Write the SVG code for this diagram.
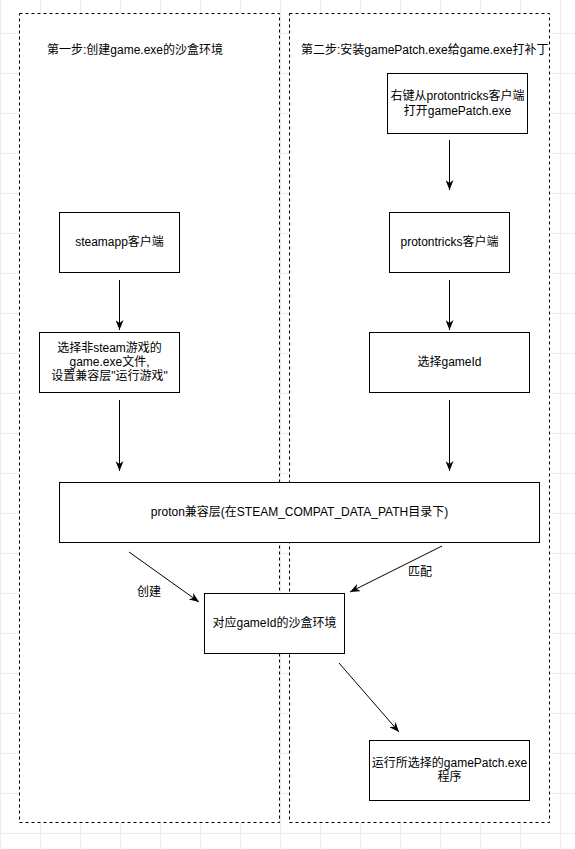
<svg xmlns="http://www.w3.org/2000/svg" width="575" height="849" viewBox="0 0 575 849">
<defs>
<pattern id="grid" x="0" y="33" width="40" height="40" patternUnits="userSpaceOnUse">
<path d="M0.5,0 V40 M0,0.5 H40" fill="none" stroke="#ececec" stroke-width="1"/>
</pattern>
<marker id="arr" viewBox="0 0 10 8" refX="10" refY="4" markerWidth="10" markerHeight="8" markerUnits="userSpaceOnUse" orient="auto">
<path d="M0,0 L10,4 L0,8 L3,4 Z" fill="#000"/>
</marker>
<style>
.box{fill:#fff;stroke:#000;stroke-width:1}
.cont{fill:#fff;stroke:#000;stroke-width:1;stroke-dasharray:3 3}
.t{font-family:"Liberation Sans","Noto Sans CJK SC",sans-serif;font-size:12px;fill:#000}
.c{text-anchor:middle}
.e{stroke:#000;stroke-width:1;fill:none;marker-end:url(#arr)}
</style>
</defs>
<rect width="575" height="849" fill="#fff"/>
<rect width="575" height="849" fill="url(#grid)"/>
<g id="container-step1">
<rect class="cont" x="19.5" y="13.5" width="260" height="809"/>
<text class="t" x="47" y="54">第一步:创建game.exe的沙盒环境</text>
</g>
<g id="container-step2">
<rect class="cont" x="289.5" y="13.5" width="260" height="809"/>
<text class="t" x="301" y="54">第二步:安装gamePatch.exe给game.exe打补丁</text>
</g>
<g id="connectors">
<line class="e" x1="449.5" y1="140" x2="449.5" y2="190"/>
<line class="e" x1="449.5" y1="280" x2="449.5" y2="330"/>
<line class="e" x1="119.5" y1="280" x2="119.5" y2="330"/>
<line class="e" x1="119.5" y1="400" x2="119.5" y2="471"/>
<line class="e" x1="449.5" y1="400" x2="449.5" y2="471"/>
<line class="e" x1="129" y1="552" x2="199" y2="602"/>
<line class="e" x1="442" y1="546" x2="350" y2="592"/>
<line class="e" x1="339" y1="663" x2="399" y2="732"/>
<text class="t" x="137" y="596">创建</text>
<text class="t" x="408" y="576">匹配</text>
</g>
<g id="node-rightclick">
<rect class="box" x="387.5" y="73.5" width="140" height="60"/>
<text class="t c" x="457.5" y="100">右键从protontricks客户端</text>
<text class="t c" x="457.5" y="115">打开gamePatch.exe</text>
</g>
<g id="node-protontricks">
<rect class="box" x="389.5" y="212.5" width="120" height="60"/>
<text class="t c" x="449.5" y="246">protontricks客户端</text>
</g>
<g id="node-steamapp">
<rect class="box" x="59.5" y="212.5" width="120" height="60"/>
<text class="t c" x="119.5" y="246">steamapp客户端</text>
</g>
<g id="node-select-exe">
<rect class="box" x="39.5" y="332.5" width="140" height="60"/>
<text class="t c" x="109.5" y="352">选择非steam游戏的</text>
<text class="t c" x="109.5" y="366">game.exe文件,</text>
<text class="t c" x="109.5" y="380">设置兼容层"运行游戏"</text>
</g>
<g id="node-select-gameid">
<rect class="box" x="369.5" y="332.5" width="160" height="60"/>
<text class="t c" x="449.5" y="366">选择gameId</text>
</g>
<g id="node-proton">
<rect class="box" x="59.5" y="482.5" width="480" height="60"/>
<text class="t c" x="299.5" y="516">proton兼容层(在STEAM_COMPAT_DATA_PATH目录下)</text>
</g>
<g id="node-sandbox">
<rect class="box" x="204.5" y="593.5" width="140" height="60"/>
<text class="t c" x="274.5" y="627">对应gameId的沙盒环境</text>
</g>
<g id="node-run-patch">
<rect class="box" x="369.5" y="740.5" width="160" height="60"/>
<text class="t c" x="449.5" y="767">运行所选择的gamePatch.exe</text>
<text class="t c" x="449.5" y="781">程序</text>
</g>
</svg>
